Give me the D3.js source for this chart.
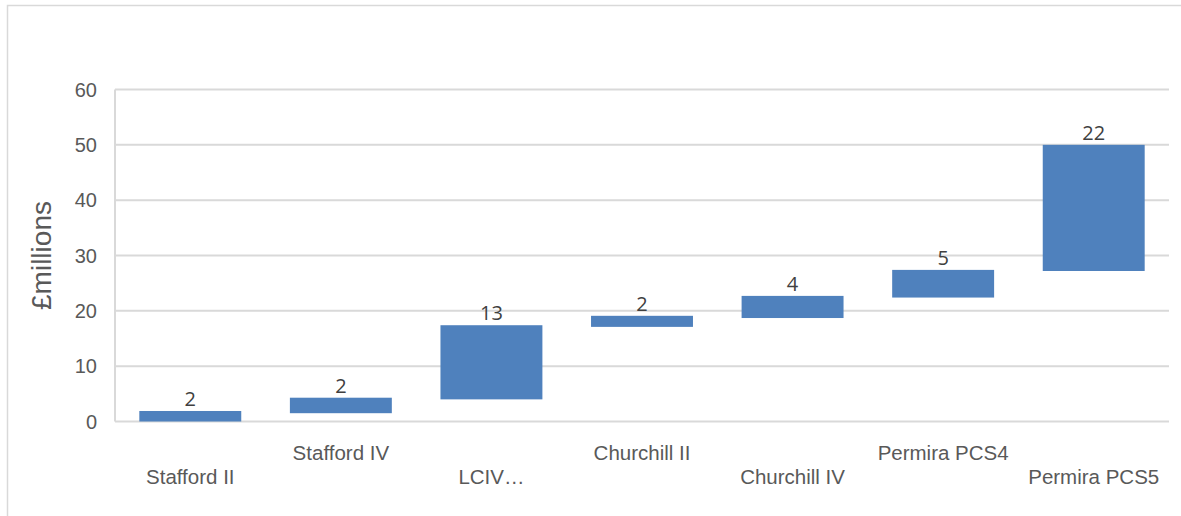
<!DOCTYPE html>
<html>
  <head>
    <meta charset="utf-8" />
    <title>Commitments waterfall</title>
    <script src="https://d3js.org/d3.v7.min.js"></script>
    <style>
        body{
            margin: 0;
            background: #fff;
        }
    </style>
  </head>
  <body>
    <svg id="vis"></svg>

    <script>
        var width = 1181;
        var height = 516;

        // chart data
        var funds = ["Stafford II", "Stafford IV", "LCIV\u2026", "Churchill II", "Churchill IV", "Permira PCS4", "Permira PCS5"];
        var barLow = [0, 1.5, 4.0, 17.1, 18.7, 22.4, 27.2];
        var barHigh = [1.9, 4.3, 17.4, 19.1, 22.7, 27.4, 50];
        var barLabels = ["2", "2", "13", "2", "4", "5", "22"];
        var yTicks = [0, 10, 20, 30, 40, 50, 60];

        var rows = funds.map(function(f, i) {
            return {name: f, low: barLow[i], high: barHigh[i], label: barLabels[i]};
        });

        var svg = d3.select("#vis").attr("width", width).attr("height", height);

        // outer chart frame
        svg.append("rect")
            .attr("x", 7.5).attr("y", 5.5)
            .attr("width", width + 10).attr("height", height + 10)
            .attr("fill", "none")
            .attr("stroke", "#d9d9d9")
            .attr("stroke-width", 1.5);

        var plotL = 115, plotR = 1169, plotT = 89.5, plotB = 421.5;

        var x = d3.scaleBand().domain(funds).range([plotL, plotR])
            .paddingInner(0.323).paddingOuter(0.1615);
        var y = d3.scaleLinear().domain([0, 60]).range([plotB, plotT]);

        // gridlines
        svg.append("g").selectAll("line").data(yTicks).enter().append("line")
            .attr("x1", plotL).attr("x2", plotR)
            .attr("y1", function(d) { return y(d); })
            .attr("y2", function(d) { return y(d); })
            .attr("stroke", "#d9d9d9")
            .attr("stroke-width", 2);

        // y axis line
        svg.append("line")
            .attr("x1", plotL).attr("x2", plotL)
            .attr("y1", plotT).attr("y2", plotB)
            .attr("stroke", "#d9d9d9")
            .attr("stroke-width", 2);

        // y tick labels
        svg.append("g").selectAll("text").data(yTicks).enter().append("text")
            .attr("x", 97)
            .attr("y", function(d) { return y(d); })
            .attr("dy", "0.35em")
            .attr("text-anchor", "end")
            .attr("font-family", "Liberation Sans, Arial, sans-serif")
            .attr("font-size", 20)
            .attr("fill", "#595959")
            .text(function(d) { return d; });

        // axis title
        svg.append("text")
            .attr("transform", "translate(51," + 255.5 + ") rotate(-90)")
            .attr("text-anchor", "middle")
            .attr("font-family", "Liberation Sans, Arial, sans-serif")
            .attr("font-size", 28)
            .attr("fill", "#595959")
            .text("£millions");

        // floating bars
        svg.append("g").selectAll("rect").data(rows).enter().append("rect")
            .attr("x", function(d) { return x(d.name); })
            .attr("width", x.bandwidth())
            .attr("y", function(d) { return y(d.high); })
            .attr("height", function(d) { return y(d.low) - y(d.high); })
            .attr("fill", "#4f81bd");

        // value labels
        svg.append("g").selectAll("text").data(rows).enter().append("text")
            .attr("x", function(d) { return x(d.name) + x.bandwidth() / 2; })
            .attr("y", function(d) { return y(d.high) - 5; })
            .attr("text-anchor", "middle")
            .attr("font-family", "Open Sans, Noto Sans, sans-serif")
            .attr("font-size", 20)
            .attr("fill", "#404040")
            .text(function(d) { return d.label; });

        // staggered category labels
        svg.append("g").selectAll("text").data(rows).enter().append("text")
            .attr("x", function(d) { return x(d.name) + x.bandwidth() / 2; })
            .attr("y", function(d, i) { return i % 2 === 0 ? 484 : 459.5; })
            .attr("text-anchor", "middle")
            .attr("font-family", "Liberation Sans, Arial, sans-serif")
            .attr("font-size", 20.5)
            .attr("fill", "#595959")
            .text(function(d) { return d.name; });
    </script>
  </body>
</html>
